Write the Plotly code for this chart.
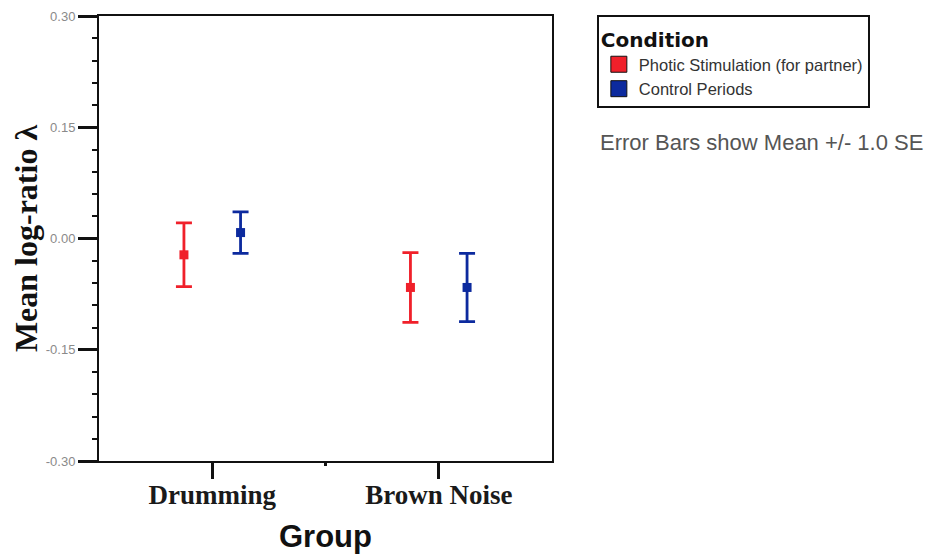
import plotly.graph_objects as go

groups = ["Drumming", "Brown Noise"]
photic_mean = [-0.022, -0.066]
photic_se = [0.043, 0.047]
control_mean = [0.008, -0.066]
control_se = [0.028, 0.046]
y_tick_vals = [-0.30, -0.15, 0.00, 0.15, 0.30]
y_tick_text = ["-0.30", "-0.15", "0.00", "0.15", "0.30"]
series_names = ["Photic Stimulation (for partner)", "Control Periods"]
legend_title = "Condition"

RED = "#f0202a"
BLUE = "#0c2a9e"

fig = go.Figure()
for name, mean, se, col in [(series_names[0], photic_mean, photic_se, RED),
                            (series_names[1], control_mean, control_se, BLUE)]:
    fig.add_trace(go.Scatter(
        x=groups, y=mean, mode="markers", name=name, showlegend=False,
        marker=dict(symbol="square", size=9, color=col),
        error_y=dict(type="data", array=se, visible=True, color=col,
                     thickness=2.8, width=8),
    ))
# legend swatches (on a separate overlay axis so they don't take group slots)
for name, col in [(series_names[0], RED), (series_names[1], BLUE)]:
    fig.add_trace(go.Scatter(
        x=[None], y=[None], xaxis="x2", mode="markers", name=name, showlegend=True,
        marker=dict(symbol="square", size=16, color=col,
                    line=dict(color="#111", width=1)),
    ))

fig.update_layout(
    width=932, height=546,
    margin=dict(l=91, r=388, t=8, b=93, autoexpand=False),
    plot_bgcolor="white", paper_bgcolor="white",
    scattermode="group", scattergap=0.5,
    xaxis=dict(
        type="category", range=[-0.5, 1.5],
        showline=True, linecolor="#111", linewidth=2, mirror=True,
        ticks="outside", ticklen=16, tickwidth=3, tickcolor="#111",
        ticklabelstandoff=-7,
        showgrid=False, zeroline=False,
        tickfont=dict(family="Liberation Serif", size=27, color="#1a1a1a", weight="bold"),
        title=dict(text="Group", standoff=20,
                   font=dict(family="Liberation Sans", size=31, color="#111", weight="bold")),
    ),
    xaxis2=dict(
        type="linear", overlaying="x", anchor="y", range=[-0.5, 1.5], side="bottom",
        tickvals=[0.5], ticks="outside", ticklen=4, tickwidth=3, tickcolor="#111",
        showticklabels=False, showline=False, showgrid=False, zeroline=False,
    ),
    yaxis=dict(
        range=[-0.30, 0.30], tickvals=y_tick_vals, ticktext=y_tick_text,
        showline=True, linecolor="#111", linewidth=2, mirror=True,
        ticks="outside", ticklen=19, tickwidth=2.5, tickcolor="#111",
        minor=dict(dtick=0.03, tick0=0, ticks="outside", ticklen=5, tickwidth=2, tickcolor="#111", showgrid=False),
        showgrid=False, zeroline=False,
        tickfont=dict(family="Liberation Sans", size=13, color="#8a8a8a"),
        title=dict(text="Mean log-ratio λ", standoff=0,
                   font=dict(family="Liberation Serif", size=32, color="#111", weight="bold")),
    ),
    legend=dict(
        x=1.099, y=1.002, xanchor="left", yanchor="top",
        bordercolor="#111", borderwidth=2, bgcolor="white",
        font=dict(family="Liberation Sans", size=16.5, color="#333"),
        title=dict(text=f"<span style='font-size:20px'>{legend_title}</span>",
                   font=dict(family="DejaVu Sans", size=23, color="#111", weight="bold")),
        itemsizing="trace",
    ),
    annotations=[dict(
        text="Error Bars show Mean +/- 1.0 SE", xref="paper", yref="paper",
        x=1.102, y=0.715, xanchor="left", yanchor="middle", showarrow=False,
        font=dict(family="Liberation Sans", size=22, color="#555"),
    )],
)

fig.write_html("out.html")
